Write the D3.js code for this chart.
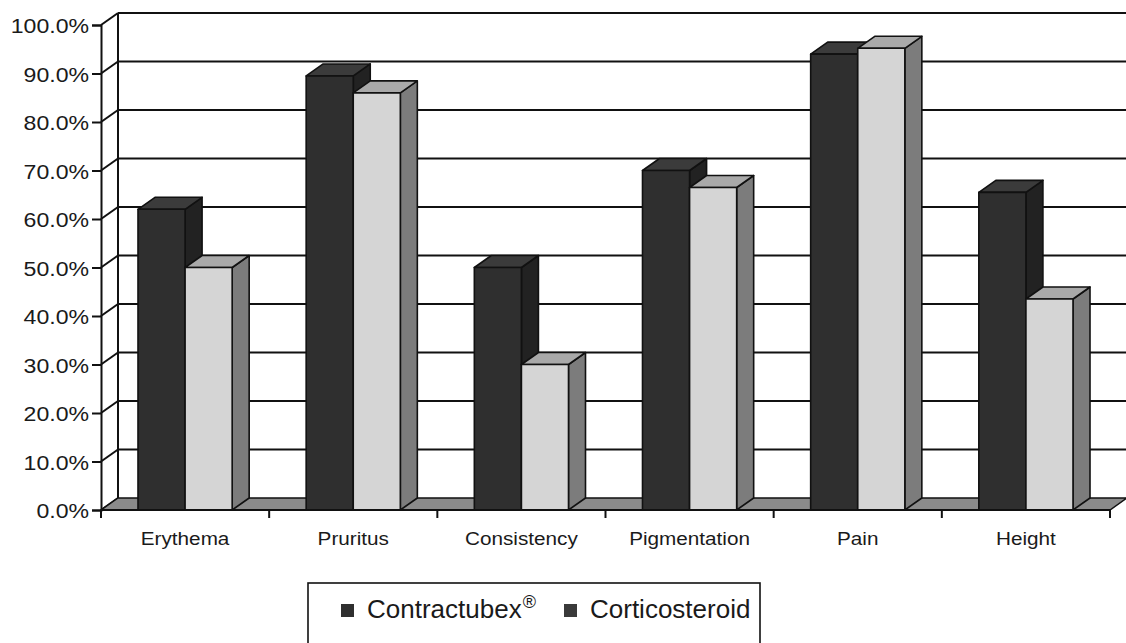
<!DOCTYPE html>
<html>
<head>
<meta charset="utf-8">
<script src="https://cdn.jsdelivr.net/npm/d3@7"></script>
<style>
  html, body { margin: 0; padding: 0; background: #fff; }
  svg { display: block; font-family: "Liberation Sans", Arial, sans-serif; }
</style>
</head>
<body>
<svg id="chart" width="1126" height="643"></svg>
<script>
// Scar assessment: share of patients improved, by parameter and treatment
const categories = ["Erythema", "Pruritus", "Consistency", "Pigmentation", "Pain", "Height"];
const seriesNames = ["Contractubex", "Corticosteroid"];
const contractubex = [0.62, 0.895, 0.50, 0.70, 0.94, 0.655];
const corticosteroid = [0.50, 0.86, 0.30, 0.665, 0.952, 0.435];
const yTicks = [0, 0.1, 0.2, 0.3, 0.4, 0.5, 0.6, 0.7, 0.8, 0.9, 1.0];

const seriesValues = [contractubex, corticosteroid];
const faceColors = [
  { front: "#2f2f2f", top: "#3b3b3b", side: "#222222" },
  { front: "#d5d5d5", top: "#a9a9a9", side: "#7c7c7c" }
];

const svg = d3.select("#chart");

// plot frame and oblique depth offset
const plotLeft = 101, plotRight = 1110, plotTop = 25, plotBottom = 510;
const DX = 17, DY = 12;

const y = d3.scaleLinear().domain([0, 1]).range([plotBottom, plotTop]);
const x0 = d3.scaleBand().domain(categories).range([plotLeft, plotRight]).padding(0);
const gap = x0.bandwidth() * 0.22;
const x1 = d3.scaleBand().domain(seriesNames).range([gap, x0.bandwidth() - gap]).padding(0);

const ink = "#111";
const pts = arr => arr.map(p => p.join(",")).join(" ");

// side wall + back wall gridlines
const grid = svg.append("g").attr("stroke", ink).attr("stroke-width", 2).attr("fill", "none");
yTicks.forEach(t => {
  grid.append("line")
    .attr("x1", plotLeft).attr("y1", y(t))
    .attr("x2", plotLeft + DX).attr("y2", y(t) - DY);
  if (t > 0) {
    grid.append("line")
      .attr("x1", plotLeft + DX).attr("y1", y(t) - DY)
      .attr("x2", plotRight + DX + 20).attr("y2", y(t) - DY);
  }
});
grid.append("line")
  .attr("x1", plotLeft + DX).attr("y1", y(1) - DY)
  .attr("x2", plotLeft + DX).attr("y2", y(0) - DY);

// floor
svg.append("polygon")
  .attr("points", pts([
    [plotLeft, y(0)], [plotRight, y(0)], [plotRight + DX, y(0) - DY], [plotLeft + DX, y(0) - DY]
  ]))
  .attr("fill", "#8b8b8b").attr("stroke", ink).attr("stroke-width", 1.5);

// 3D columns, drawn left to right so each column hides its neighbour's side face
const bars = svg.append("g").attr("stroke", ink).attr("stroke-width", 1.6).attr("stroke-linejoin", "round");
categories.forEach((cat, i) => {
  seriesNames.forEach((s, j) => {
    const v = seriesValues[j][i];
    const bx = x0(cat) + x1(s);
    const w = x1.bandwidth();
    const yt = y(v), yb = y(0);
    const c = faceColors[j];
    const g = bars.append("g");
    g.append("polygon")
      .attr("points", pts([[bx + w, yt], [bx + w + DX, yt - DY], [bx + w + DX, yb - DY], [bx + w, yb]]))
      .attr("fill", c.side);
    g.append("polygon")
      .attr("points", pts([[bx, yt], [bx + w, yt], [bx + w + DX, yt - DY], [bx + DX, yt - DY]]))
      .attr("fill", c.top);
    g.append("rect")
      .attr("x", bx).attr("y", yt).attr("width", w).attr("height", yb - yt)
      .attr("fill", c.front);
  });
});

// value axis
const yAxis = svg.append("g")
  .attr("transform", `translate(${plotLeft},0)`)
  .call(d3.axisLeft(y).tickValues(yTicks).tickFormat(d3.format(".1%")).tickSize(9).tickPadding(4));
yAxis.select(".domain").attr("stroke", ink).attr("stroke-width", 2);
yAxis.selectAll(".tick line").attr("stroke", ink).attr("stroke-width", 2);
yAxis.selectAll(".tick text")
  .attr("fill", "#1a1a1a")
  .style("font-size", "21px")
  .attr("dy", "0.36em")
  .attr("transform", "scale(1.1,1)")
  .attr("x", -12 / 1.1);

// category axis: ticks sit on the category boundaries
const xAxis = svg.append("g").attr("transform", `translate(0,${plotBottom})`);
xAxis.append("line").attr("x1", plotLeft).attr("x2", plotRight).attr("stroke", ink).attr("stroke-width", 2);
const bounds = categories.map(c => x0(c)).concat([plotRight]);
xAxis.selectAll("line.tk").data(bounds).join("line")
  .attr("class", "tk")
  .attr("x1", d => d).attr("x2", d => d)
  .attr("y1", 0).attr("y2", 8)
  .attr("stroke", ink).attr("stroke-width", 2);
xAxis.selectAll("text").data(categories).join("text")
  .attr("transform", d => `translate(${x0(d) + x0.bandwidth() / 2},35) scale(1.12,1)`)
  .attr("text-anchor", "middle")
  .attr("fill", "#1a1a1a")
  .style("font-size", "18.5px")
  .text(d => d);

// legend
const legend = svg.append("g");
legend.append("rect")
  .attr("x", 308).attr("y", 583).attr("width", 452).attr("height", 100)
  .attr("fill", "#fff").attr("stroke", ink).attr("stroke-width", 1.6);
const legendItems = [
  { name: "Contractubex", sup: "®", mx: 341, tx: 367, color: "#2f2f2f" },
  { name: "Corticosteroid", sup: "", mx: 564, tx: 590, color: "#3a3a3a" }
];
legendItems.forEach(it => {
  legend.append("rect")
    .attr("x", it.mx).attr("y", 604).attr("width", 13).attr("height", 13)
    .attr("fill", it.color);
  const t = legend.append("text")
    .attr("x", it.tx).attr("y", 618)
    .attr("fill", "#1a1a1a")
    .style("font-size", "26px");
  t.append("tspan").text(it.name);
  if (it.sup) {
    t.append("tspan").attr("dx", 1).attr("dy", -10).style("font-size", "18px").text(it.sup);
  }
});
</script>
</body>
</html>
